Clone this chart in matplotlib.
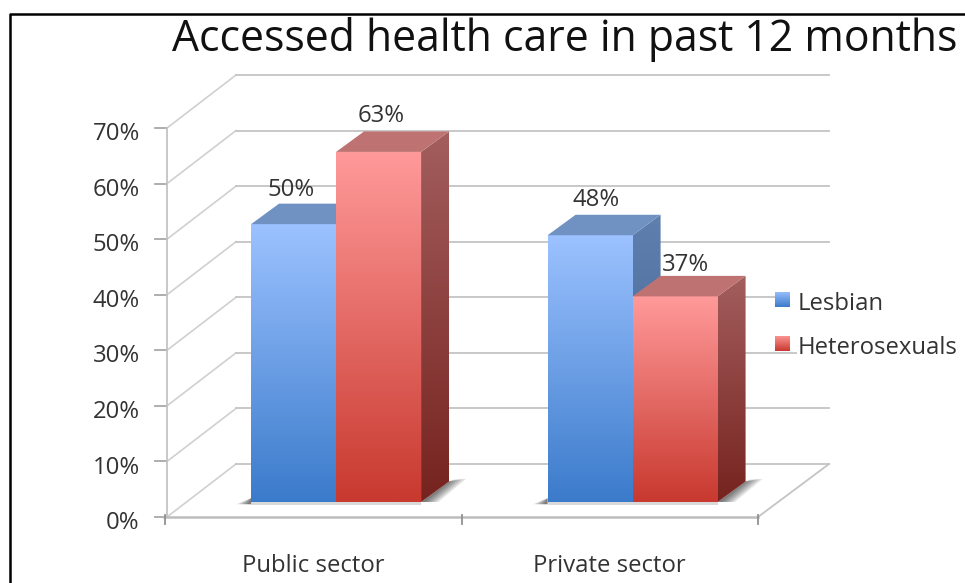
import numpy as np
import matplotlib
matplotlib.use("Agg")
import matplotlib.pyplot as plt
from matplotlib.colors import to_rgb
from matplotlib.patches import Polygon, Rectangle

plt.rcParams['font.family'] = ['Open Sans', 'DejaVu Sans']

title = "Accessed health care in past 12 months"
categories = ["Public sector", "Private sector"]
series_names = ["Lesbian", "Heterosexuals"]
lesbian = [50, 48]
heterosexuals = [63, 37]
y_ticks = [0, 10, 20, 30, 40, 50, 60, 70]

# colours: front top, front bottom, side top, side bottom, roof
blue = ["#9cc2ff", "#3b7bcb", "#5f7fae", "#3f5f8f", "#7092c2"]
red = ["#ff9a9a", "#c8392f", "#a35e5e", "#76231f", "#bf7272"]
grid_c = "#c4c4c4"
text_c = "#333333"

# one category = 296.5 px, one percent = 5.557 px
X0, XS, Y0, YS = 165, 296.5, 517, 5.557
WALL_DX, WALL_DY = 71 / XS, 53 / YS
BAR_W = 85 / XS
BAR_X, BAR_Y = 0.077, 15 / YS
DEPTH_X, DEPTH_Y = 28 / XS, 20.5 / YS
AXIS_X = 2 / XS
FS = 17.2

# label nudges in px, [series][category]
nudge_x = [[-12, -4], [-7, 1]]
nudge_y = [[3, 4], [5, 0]]

fig = plt.figure(figsize=(9.65, 5.83), dpi=100)
ax = fig.add_axes([0, 0, 1, 1])
ax.axis("off")
xlim = (-X0 / XS, (965 - X0) / XS)
ylim = ((Y0 - 583) / YS, Y0 / YS)


def gradient(poly, c1, c2, z):
    # vertical colour run clipped to the polygon
    poly = np.array(poly)
    a, b = np.array(to_rgb(c1)), np.array(to_rgb(c2))
    t = np.linspace(0, 1, 200)[:, None, None]
    img = a[None, None, :] * (1 - t) + b[None, None, :] * t
    im = ax.imshow(img, extent=[poly[:, 0].min(), poly[:, 0].max(), poly[:, 1].min(), poly[:, 1].max()],
                   aspect="auto", origin="upper", zorder=z, interpolation="bilinear")
    clip = Polygon(poly, transform=ax.transData, fill=False, edgecolor="none")
    ax.add_patch(clip)
    im.set_clip_path(clip)


# walls, floor and grid
for v in y_ticks:
    ax.plot([AXIS_X, WALL_DX], [v, v + WALL_DY], color="#d0d0d0", lw=1.2, zorder=1)
    ax.plot([WALL_DX, WALL_DX + 2], [v + WALL_DY, v + WALL_DY], color=grid_c, lw=1.3, zorder=1)
    ax.plot([-0.035, AXIS_X], [v, v], color="#a8a8a8", lw=1.3, zorder=1)
    ax.text(-0.085, v - 1.1, "%d%%" % v, ha="right", va="center", fontsize=FS, color=text_c)
ax.plot([AXIS_X, AXIS_X], [0, y_ticks[-1]], color=grid_c, lw=1.3, zorder=1)
ax.plot([-0.005, 2], [0, 0], color="#bdbdbd", lw=1.8, zorder=2)
ax.plot([2, 2 + WALL_DX], [0, WALL_DY], color=grid_c, lw=1.3, zorder=1)
for i in range(3):
    ax.plot([i, i], [-1.2, 0.4], color="#909090", lw=1.3, zorder=2)
for i, c in enumerate(categories):
    ax.text(i + 0.5, -8.75, c, ha="center", va="center", fontsize=FS, color=text_c)

# legend sits on a white patch that hides the ends of two grid lines
ax.add_patch(Rectangle((2.057, 31.0), 0.63, 11.2, fc="white", ec="none", zorder=3))
ax.add_patch(Rectangle((2.13, 28.6), 0.56, 2.5, fc="white", ec="none", zorder=3))

groups = [lesbian, heterosexuals]
cols = [blue, red]

# floor shadows, stacked so they fade outwards
for i in range(len(categories)):
    left = i + 0.5 + BAR_X - BAR_W
    right = i + 0.5 + BAR_X + BAR_W
    for grow in [1.0, 0.85, 0.7, 0.55, 0.4, 0.25]:
        sx = 0.058 * grow
        ax.add_patch(Polygon([[right, BAR_Y], [right + DEPTH_X, BAR_Y + DEPTH_Y],
                              [right + DEPTH_X + sx, BAR_Y + DEPTH_Y + 0.5],
                              [right + sx, BAR_Y]], fc="black", ec="none", alpha=0.11, zorder=3))
        ax.add_patch(Polygon([[left - sx * 0.85, BAR_Y - 0.4], [left, BAR_Y - 0.4], [left, BAR_Y + 0.7],
                              [left - sx * 0.4, BAR_Y + 0.2]], fc="black", ec="none", alpha=0.11, zorder=3))
    ax.add_patch(Rectangle((left, BAR_Y - 0.5), 2 * BAR_W, 0.5, fc="black", ec="none", alpha=0.15, zorder=3))

# bars, left series first, the right one covers its side face
for i in range(len(categories)):
    for s in range(2):
        v = groups[s][i]
        c = cols[s]
        x1 = i + 0.5 + BAR_X + (s - 1) * BAR_W
        x2 = x1 + BAR_W
        y1, y2 = BAR_Y, BAR_Y + v
        z = 4 + s
        gradient([[x1, y1], [x2, y1], [x2, y2], [x1, y2]], c[0], c[1], z)
        gradient([[x2, y1], [x2 + DEPTH_X, y1 + DEPTH_Y], [x2 + DEPTH_X, y2 + DEPTH_Y], [x2, y2]], c[2], c[3], z)
        ax.add_patch(Polygon([[x1, y2], [x2, y2], [x2 + DEPTH_X, y2 + DEPTH_Y], [x1 + DEPTH_X, y2 + DEPTH_Y]],
                             fc=c[4], ec="none", zorder=z))
        ax.text(x1 + BAR_W / 2 + DEPTH_X * 0.35 + nudge_x[s][i] / XS, y2 + DEPTH_Y + 1.9 + nudge_y[s][i] / YS,
                "%d%%" % v, ha="center", va="center", fontsize=FS, color=text_c, zorder=8)

# legend
for s, name in enumerate(series_names):
    ly = 37.8 - s * 7.9
    gradient([[2.057, ly], [2.108, ly], [2.108, ly + 2.7], [2.057, ly + 2.7]], cols[s][0], cols[s][1], 6)
    ax.text(2.132, ly + 0.45, name, ha="left", va="center", fontsize=FS, color=text_c, zorder=8)

ax.text(565 / 965, 0.933, title, transform=ax.transAxes, ha="center", va="center", fontsize=30.8, color="#111111")

# black frame round the picture, open at the bottom and on the right
ax.plot([9.5 / 965, 9.5 / 965, 1], [0, 569.5 / 583, 569.5 / 583], transform=ax.transAxes,
        color="black", lw=1.8, clip_on=False)

ax.set_xlim(xlim)
ax.set_ylim(ylim)
fig.savefig("out.png", dpi=100)
